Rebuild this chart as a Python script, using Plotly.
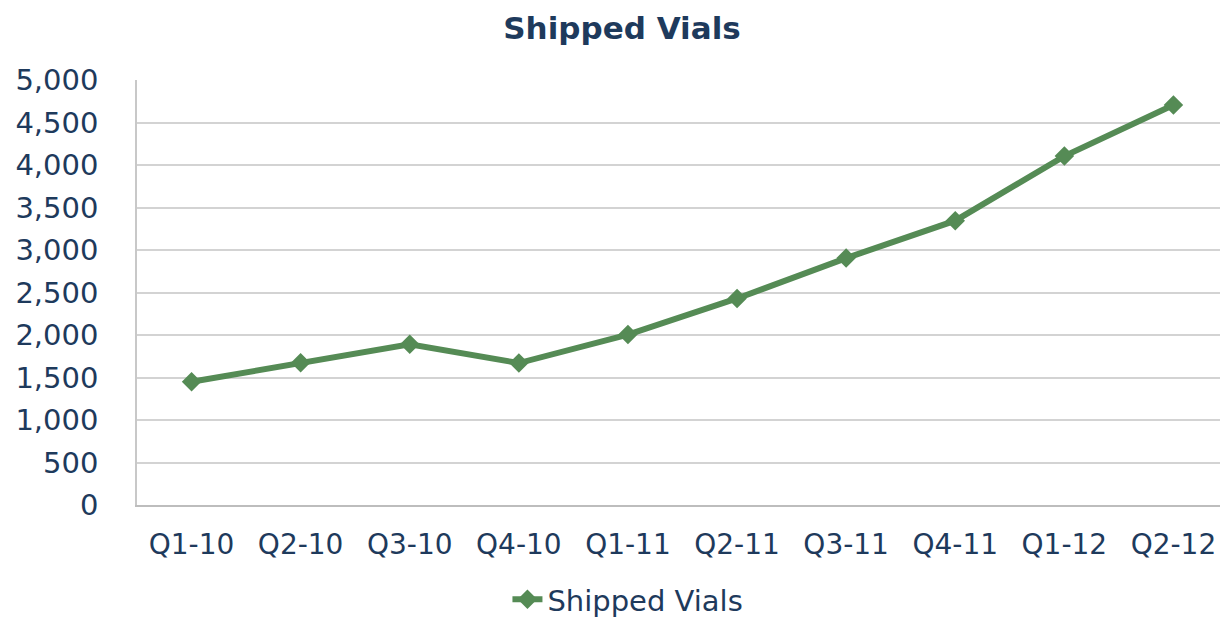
import plotly.graph_objects as go

quarters = ["Q1-10", "Q2-10", "Q3-10", "Q4-10", "Q1-11", "Q2-11", "Q3-11", "Q4-11", "Q1-12", "Q2-12"]
shipped_vials = [1450, 1675, 1890, 1670, 2005, 2430, 2905, 3345, 4105, 4705]
y_ticks = [0, 500, 1000, 1500, 2000, 2500, 3000, 3500, 4000, 4500, 5000]

text_color = "#1E3A5C"
green = "#558B55"

fig = go.Figure()
fig.add_trace(go.Scatter(
    x=quarters, y=shipped_vials, name="Shipped Vials",
    mode="lines+markers",
    line=dict(color=green, width=6),
    marker=dict(symbol="diamond", size=15, color=green),
))

fig.update_layout(
    width=1228, height=632,
    margin=dict(l=129, r=8, t=72, b=135),
    paper_bgcolor="white", plot_bgcolor="white",
    title=dict(text="<b>Shipped Vials</b>", x=0.5, xanchor="center", y=1 - 20 / 632, yanchor="middle",
               font=dict(family="DejaVu Sans", size=31, color=text_color)),
    font=dict(family="DejaVu Sans", color=text_color),
    showlegend=True,
    legend=dict(orientation="h", x=0.45, xanchor="center", y=-0.222, yanchor="middle",
                font=dict(size=29, color=text_color), bgcolor="rgba(0,0,0,0)"),
    xaxis=dict(
        type="category", range=[-0.5, 9.5],
        showgrid=False, showline=True, linecolor="#BDBDBD", linewidth=1.5,
        tickfont=dict(size=28, color=text_color), ticks="", ticklabelstandoff=14,
    ),
    yaxis=dict(
        range=[0, 5000], tickvals=y_ticks, tickformat=",d",
        showgrid=True, gridcolor="#D3D3D3", gridwidth=1.5,
        showline=True, linecolor="#C8C8C8", linewidth=1.5,
        zeroline=False,
        tickfont=dict(size=29, color=text_color), ticks="", ticklabelstandoff=31,
    ),
)

fig.write_html("out.html")
